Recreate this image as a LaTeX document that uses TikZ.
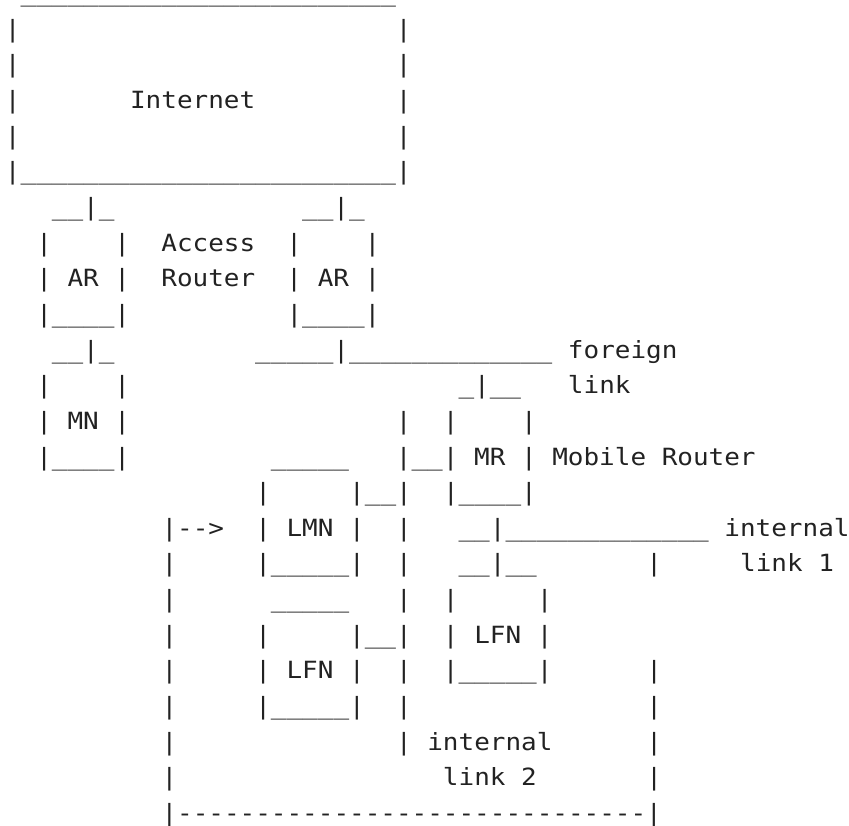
\documentclass[tikz,border=0pt]{standalone}
\usepackage{fontspec}
\setmonofont{DejaVu Sans Mono}[FakeStretch=1.096]
\definecolor{ink}{HTML}{222222}
% keep the spaces and underscores of one line of the sketch
\newcommand\asciirow{\begingroup\obeyspaces\catcode`\_=12 \asciirowaux}
\newcommand\asciirowaux[1]{#1\endgroup}
\tikzset{art/.style={anchor=base west,inner sep=0pt,outer sep=0pt,
  font=\ttfamily\fontsize{23.7pt}{35.65pt}\selectfont,text=ink}}

\begin{document}
\begin{tikzpicture}[x=15.65pt,y=-35.65pt]
\useasboundingbox (-5pt,-34.1pt) rectangle (844pt,-859.1pt);

% Internet
\node[art] (r1) at (1,1) {\asciirow{________________________}};
\node[art] (r2) at (0,2) {\asciirow{|                        |}};
\node[art] (r3) at (0,3) {\asciirow{|                        |}};
\node[art] (r4) at (0,4) {\asciirow{|       Internet         |}};
\node[art] (r5) at (0,5) {\asciirow{|                        |}};
\node[art] (r6) at (0,6) {\asciirow{|________________________|}};

% access routers and mobile node
\node[art] (r7) at (3,7) {\asciirow{__|_            __|_}};
\node[art] (r8) at (2,8) {\asciirow{|    |  Access  |    |}};
\node[art] (r9) at (2,9) {\asciirow{| AR |  Router  | AR |}};
\node[art] (r10) at (2,10) {\asciirow{|____|          |____|}};
\node[art] (r11) at (3,11) {\asciirow{__|_         _____|_____________ foreign}};
\node[art] (r12) at (2,12) {\asciirow{|    |                     _|__   link}};
\node[art] (r13) at (2,13) {\asciirow{| MN |                 |  |    |}};
\node[art] (r14) at (2,14) {\asciirow{|____|         _____   |__| MR | Mobile Router}};

% mobile network
\node[art] (r15) at (16,15) {\asciirow{|     |__|  |____|}};
\node[art] (r16) at (10,16) {\asciirow{|-->  | LMN |  |   __|_____________ internal}};
\node[art] (r17) at (10,17) {\asciirow{|     |_____|  |   __|__       |     link 1}};
\node[art] (r18) at (10,18) {\asciirow{|      _____   |  |     |}};
\node[art] (r19) at (10,19) {\asciirow{|     |     |__|  | LFN |}};
\node[art] (r20) at (10,20) {\asciirow{|     | LFN |  |  |_____|      |}};
\node[art] (r21) at (10,21) {\asciirow{|     |_____|  |               |}};
\node[art] (r22) at (10,22) {\asciirow{|              | internal      |}};
\node[art] (r23) at (10,23) {\asciirow{|                 link 2       |}};
\node[art] (r24) at (10,24) {\asciirow{|------------------------------|}};
\end{tikzpicture}
\end{document}
